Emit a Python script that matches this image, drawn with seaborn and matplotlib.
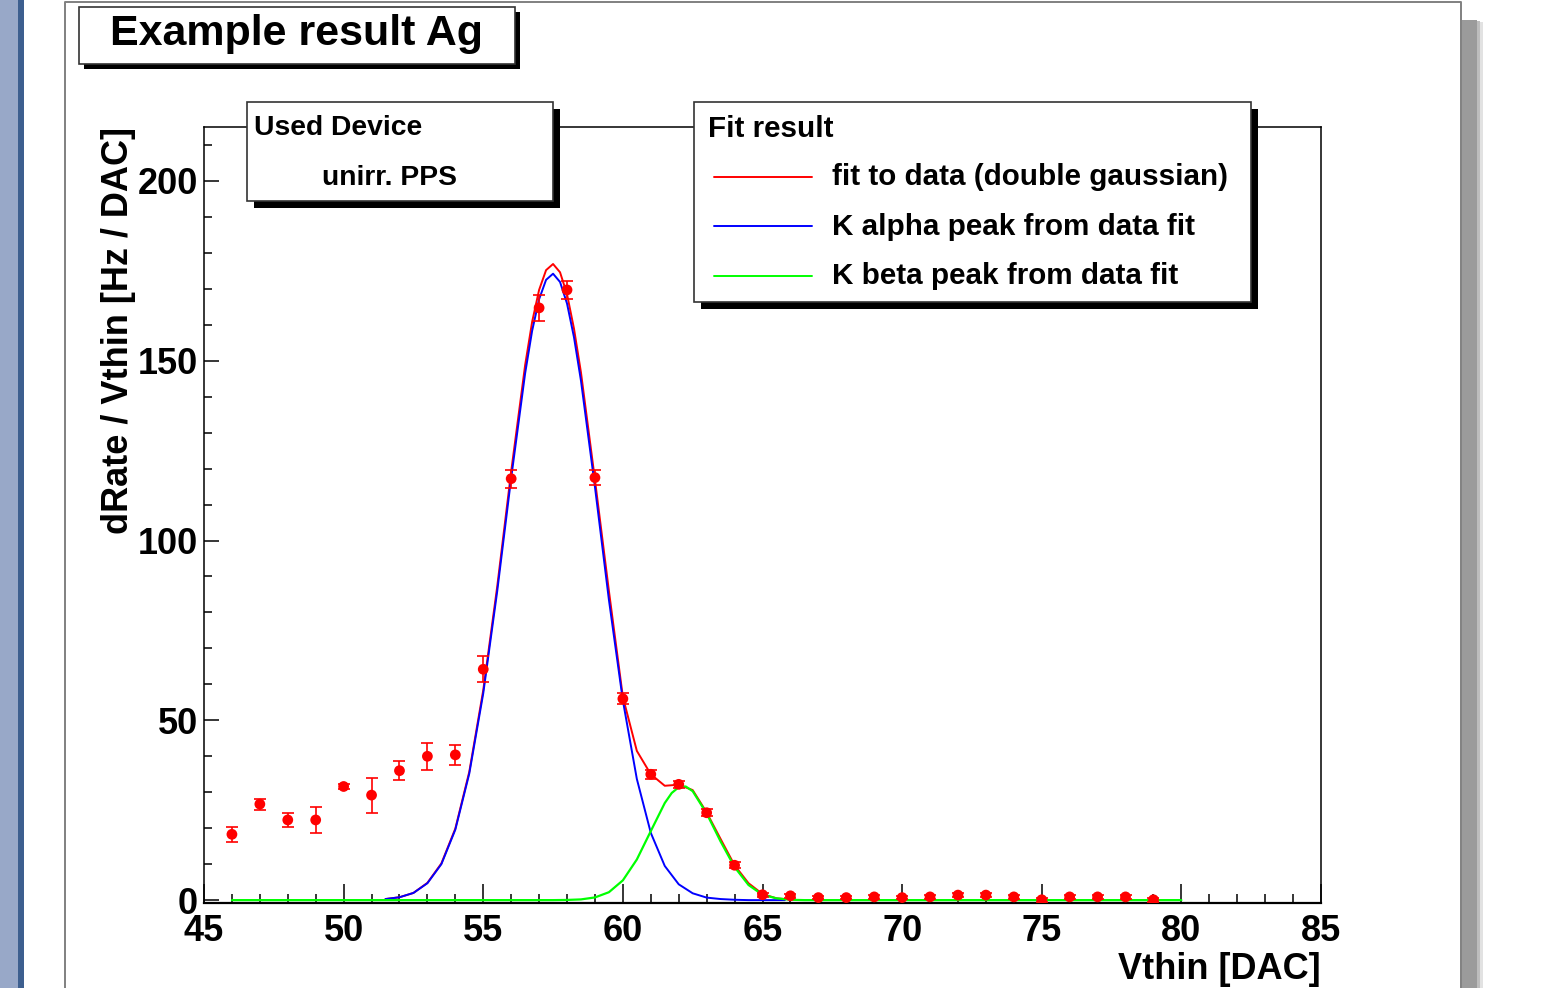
import matplotlib
matplotlib.use("Agg")
import matplotlib.pyplot as plt
import seaborn as sns
from matplotlib.patches import Rectangle
from matplotlib.lines import Line2D
from matplotlib.ticker import MultipleLocator

sns.set_theme(style="ticks")
plt.rcParams['font.family'] = ['Liberation Sans', 'DejaVu Sans']
plt.rcParams['font.weight'] = 'bold'
plt.rcParams['text.color'] = 'black'
plt.rcParams['axes.labelcolor'] = 'black'
plt.rcParams['xtick.color'] = 'black'
plt.rcParams['ytick.color'] = 'black'

# measured points (Vthin [DAC], dRate/Vthin [Hz/DAC])
vthin = [46, 47, 48, 49, 50, 51, 52, 53, 54, 55, 56, 57, 58, 59, 60, 61, 62,
         63, 64, 65, 66, 67, 68, 69, 70, 71, 72, 73, 74, 75, 76, 77, 78, 79]
rate = [18.3, 26.7, 22.3, 22.3, 31.6, 29.2, 36.0, 40.0, 40.4, 64.2, 117.2,
        164.7, 169.7, 117.5, 56.0, 35.0, 32.2, 24.3, 9.7, 1.5, 1.2, 0.7, 0.7,
        0.9, 0.7, 0.9, 1.4, 1.4, 0.9, 0.1, 0.9, 0.9, 0.9, 0.1]
rate_err = [2.1, 1.5, 2.0, 3.5, 0.8, 4.9, 2.6, 3.7, 2.8, 3.6, 2.5, 3.7, 2.4,
            2.0, 1.5, 1.2, 1.0, 1.0, 0.8, 0.5, 0.5, 0.5, 0.5, 0.5, 0.5, 0.5,
            0.5, 0.5, 0.5, 0.5, 0.5, 0.5, 0.5, 0.5]

# fit curves
fit_x = [51.5, 52.0, 52.5, 53.0, 53.5, 54.0, 54.5, 55.0, 55.5, 56.0, 56.5,
         56.75, 57.0, 57.25, 57.5, 57.75, 58.0, 58.25, 58.5, 59.0, 59.5, 60.0,
         60.5, 61.0, 61.5, 62.0, 62.5, 63.0, 63.5, 64.0, 64.5, 65.0, 65.5, 65.8]
double_gauss = [0.3, 0.8, 2.0, 4.8, 10.2, 19.9, 35.7, 58.4, 87.2, 119.2, 148.8,
                160.8, 169.7, 175.2, 176.9, 174.6, 168.5, 158.9, 146.7, 116.9,
                86.0, 56.5, 41.5, 35.0, 31.8, 32.1, 30.6, 24.4, 17.0, 9.7, 4.7,
                1.7, 0.5, 0.3]
k_alpha = [0.3, 0.8, 2.0, 4.7, 10.0, 19.6, 35.2, 57.5, 85.9, 117.4, 146.5,
           158.3, 167.1, 172.5, 174.2, 171.9, 165.9, 156.5, 144.4, 114.9, 83.5,
           55.5, 33.7, 18.7, 9.5, 4.4, 1.9, 0.7, 0.3, 0.1, 0.0, 0.0, 0.0, 0.0]
beta_x = [46.0, 57.5, 58.0, 58.5, 59.0, 59.5, 60.0, 60.5, 61.0, 61.5, 61.75,
          62.0, 62.25, 62.5, 63.0, 63.5, 64.0, 64.5, 65.0, 65.5, 66.0, 66.5,
          67.0, 80.0]
k_beta = [0.0, 0.0, 0.05, 0.2, 0.75, 2.2, 5.5, 11.3, 19.2, 27.0, 29.8, 31.4,
          31.6, 30.3, 24.1, 16.3, 9.2, 4.2, 1.5, 0.5, 0.1, 0.0, 0.0, 0.0]

legend_labels = ["fit to data (double gaussian)",
                 "K alpha peak from data fit",
                 "K beta peak from data fit"]
legend_colors = ["#ff0000", "#0000ff", "#00ff00"]

W, H = 1557, 988
fig = plt.figure(figsize=(W / 100, H / 100), dpi=100)
fig.patch.set_facecolor("white")

# plot frame (pixels): x 204..1321, y 127..903
ax = fig.add_axes([204 / W, 1 - 903 / H, (1321 - 204) / W, (903 - 127) / H])
ax.set_facecolor("white")

sns.lineplot(x=fit_x, y=double_gauss, color="#ff0000", lw=1.4, sort=False,
             estimator=None, ax=ax, legend=False)
sns.lineplot(x=fit_x, y=k_alpha, color="#0000ff", lw=1.4, sort=False,
             estimator=None, ax=ax, legend=False)
sns.lineplot(x=beta_x, y=k_beta, color="#00ff00", lw=1.6, sort=False,
             estimator=None, ax=ax, legend=False)
ax.errorbar(vthin, rate, yerr=rate_err, fmt="none", ecolor="#ff0000",
            elinewidth=1.2, capsize=4, capthick=1.2, zorder=4)
sns.scatterplot(x=vthin, y=rate, color="#ff0000", s=60, marker="o",
                edgecolor="none", ax=ax, legend=False, zorder=5)

ax.set_xlim(45, 85)
ax.set_ylim(-0.8, 215)
ax.xaxis.set_major_locator(MultipleLocator(5))
ax.xaxis.set_minor_locator(MultipleLocator(1))
ax.yaxis.set_major_locator(MultipleLocator(50))
ax.yaxis.set_minor_locator(MultipleLocator(10))
ax.tick_params(which="both", direction="in", color="black", width=1.1,
               labelsize=26, top=False, right=False, labelcolor="black")
ax.tick_params(axis="x", which="major", length=13.7, pad=8)
ax.tick_params(axis="x", which="minor", length=6.5)
ax.tick_params(axis="y", which="major", length=11, pad=4.5)
ax.tick_params(axis="y", which="minor", length=5.5)
for lab in ax.get_xticklabels() + ax.get_yticklabels():
    lab.set_fontweight("bold")
for sp in ax.spines.values():
    sp.set_color("black")
    sp.set_linewidth(1.1)
ax.spines["bottom"].set_linewidth(1.6)

ax.set_xlabel("Vthin [DAC]", fontsize=26, fontweight="bold", loc="right")
ax.set_ylabel("dRate / Vthin [Hz / DAC]", fontsize=26, fontweight="bold",
              loc="top")
ax.xaxis.set_label_coords(1.0, -0.063)
ax.yaxis.set_label_coords(-0.061, 1.0)

# canvas decorations, pave texts and legend in pixel coordinates
ov = fig.add_axes([0, 0, 1, 1], zorder=10)
ov.set_xlim(0, W)
ov.set_ylim(H, 0)
ov.axis("off")
ov.patch.set_alpha(0)

ov.add_patch(Rectangle((0, 0), 18, H, facecolor="#98a8c8", edgecolor="none"))
ov.add_patch(Rectangle((18, 0), 6, H, facecolor="#3d5f8f", edgecolor="none"))
ov.add_patch(Rectangle((1462, 20), 15, H, facecolor="#9b9b9b", edgecolor="none"))
ov.add_patch(Rectangle((1477, 21), 3, H, facecolor="#bdbdbd", edgecolor="none"))
ov.add_patch(Rectangle((1480, 22), 3, H, facecolor="#e2e2e2", edgecolor="none"))
ov.add_line(Line2D([65, 65, 1461, 1461], [H, 2, 2, H], color="#808080", lw=1.4))


def pave(x0, y0, x1, y1, off):
    ov.add_patch(Rectangle((x0 + off, y0 + off), x1 - x0, y1 - y0,
                           facecolor="black", edgecolor="none"))
    ov.add_patch(Rectangle((x0, y0), x1 - x0, y1 - y0, facecolor="white",
                           edgecolor="#333333", lw=1.2))


pave(79, 7, 515, 64, 5)
ov.text(297, 34, "Example result Ag", fontsize=31, fontweight="bold",
        ha="center", va="center")

pave(247, 102, 553, 201, 7)
ov.text(254, 128, "Used Device", fontsize=20.3, fontweight="bold",
        ha="left", va="center")
ov.text(390, 178, "unirr. PPS", fontsize=20.3, fontweight="bold",
        ha="center", va="center")

pave(694, 102, 1251, 302, 7)
ov.text(708, 129, "Fit result", fontsize=21.3, fontweight="bold",
        ha="left", va="center")
for i, (lab, col) in enumerate(zip(legend_labels, legend_colors)):
    yy = 177 + i * 49.5
    ov.add_line(Line2D([714, 812], [yy, yy], color=col, lw=1.4))
    ov.text(832, yy, lab, fontsize=21.3, fontweight="bold", ha="left",
            va="center")

fig.savefig("out.png", dpi=100)
